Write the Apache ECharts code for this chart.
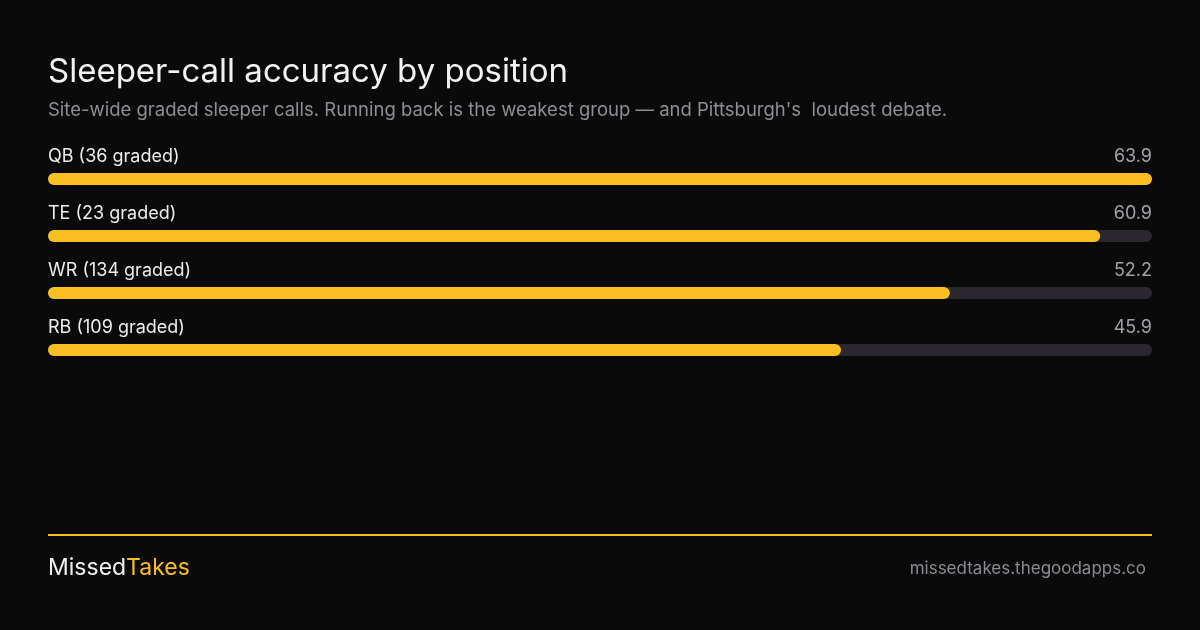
<!DOCTYPE html>
<html><head><meta charset="utf-8">
<script src="https://cdn.jsdelivr.net/npm/echarts@6/dist/echarts.min.js"></script>
<style>html,body{margin:0;padding:0;background:#0a0a0a}#c{width:1200px;height:630px}</style>
</head><body><div id="c"></div>
<script>
const categories = ['QB (36 graded)', 'TE (23 graded)', 'WR (134 graded)', 'RB (109 graded)'];
const values = [63.9, 60.9, 52.2, 45.9];
const valueLabels = ['63.9', '60.9', '52.2', '45.9'];
const maxVal = Math.max(...values);
const track = values.map(() => maxVal);
const FONT = 'Inter, "Noto Sans", sans-serif';

const chart = echarts.init(document.getElementById('c'));
chart.setOption({
  backgroundColor: '#0a0a0a',
  animation: false,
  grid: { left: 48, right: 48, top: 150.5, bottom: 251.5 },
  xAxis: { type: 'value', min: 0, max: maxVal, show: false },
  yAxis: { type: 'category', data: categories, inverse: true, show: false },
  series: [
    {
      type: 'bar', data: track, barWidth: 12, silent: true,
      itemStyle: { color: '#2a272f', borderRadius: 6 },
      label: {
        show: true, position: ['100%', -16], align: 'right', verticalAlign: 'middle',
        formatter: p => valueLabels[p.dataIndex],
        color: '#a1a1aa', fontSize: 18, fontFamily: FONT
      },
      z: 1
    },
    {
      type: 'bar', data: values, barWidth: 12, barGap: '-100%', silent: true,
      itemStyle: { color: '#fbbf24', borderRadius: 6 },
      label: {
        show: true, position: [0, -16], align: 'left', verticalAlign: 'middle',
        formatter: p => categories[p.dataIndex],
        color: '#ececec', fontSize: 18, fontFamily: FONT
      },
      z: 2
    }
  ],
  graphic: [
    { type: 'text', left: 48, top: 56, style: { text: 'Sleeper-call accuracy by position', fill: '#f2f2f2', font: '33px ' + FONT } },
    { type: 'text', left: 48, top: 101, style: { text: "Site-wide graded sleeper calls. Running back is the weakest group — and Pittsburgh's  loudest debate.", fill: '#8e8e96', font: '18.5px ' + FONT } },
    { type: 'rect', shape: { x: 48, y: 534, width: 1104, height: 2 }, style: { fill: '#fbbf24' } },
    { type: 'text', left: 48, top: 557, style: { rich: { a: { fill: '#f0f0f0', font: '23px ' + FONT }, b: { fill: '#fbbf24', font: '23px ' + FONT } }, text: '{a|Missed}{b|Takes}' } },
    { type: 'text', right: 54, top: 560, style: { text: 'missedtakes.thegoodapps.co', fill: '#8b8b94', font: '17px ' + FONT } }
  ]
});
</script></body></html>
